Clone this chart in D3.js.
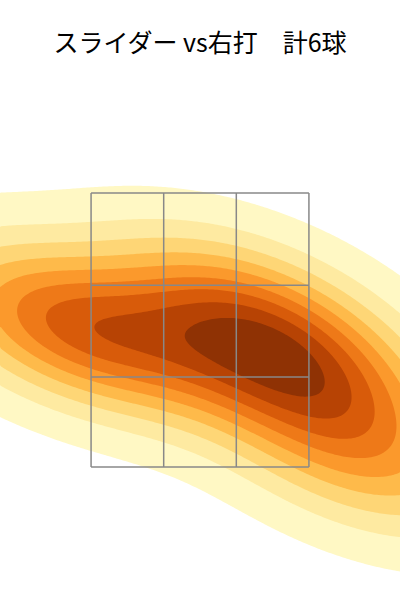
<!DOCTYPE html>
<html>
<head>
<meta charset="utf-8">
<script src="https://cdn.jsdelivr.net/npm/d3@7"></script>
<style>
html,body{margin:0;padding:0;background:#fff;}
svg{display:block;}
</style>
</head>
<body>
<div id="chart"></div>
<script>
// ---- data ----
const chartTitle = "スライダー vs右打　計6球";
const pitchX = [-0.943, -0.670, 0.228, 0.488, 0.715, 1.073]; // plate_x (ft)
const pitchZ = [2.573, 2.456, 2.697, 2.361, 2.084, 1.537];   // plate_z (ft)
const zoneX = [-0.708, -0.236, 0.236, 0.708];
const zoneZ = [3.5, 2.826, 2.157, 1.5];
const levelFrac = [0.05, 0.156, 0.261, 0.367, 0.472, 0.578, 0.683, 0.789, 0.894];
const levelColorT = [0.1, 0.2, 0.3, 0.4, 0.5, 0.6, 0.7, 0.8, 0.9];

// ---- layout ----
const W = 400, H = 600;
const x = d3.scaleLinear().domain([-1.3, 1.3]).range([0, W]);
const y = d3.scaleLinear().domain([0.529, 4.909]).range([H, 0]);

const svg = d3.select("#chart").append("svg").attr("width", W).attr("height", H);

// KDE (tilted gaussian kernel) on a pixel grid
const cell = 2, kx = 95, ky = 57, rho = 0.45;
const c11 = kx * kx, c22 = ky * ky, c12 = rho * kx * ky;
const det = c11 * c22 - c12 * c12;
const i11 = c22 / det, i22 = c11 / det, i12 = -c12 / det;
const nx = Math.ceil(W / cell) + 1, ny = Math.ceil(H / cell) + 1;
const pts = pitchX.map((v, i) => [x(v), y(pitchZ[i])]);
const values = new Float64Array(nx * ny);
for (let j = 0; j < ny; j++) {
  for (let i = 0; i < nx; i++) {
    const px = i * cell, py = j * cell;
    let s = 0;
    for (const [a, b] of pts) {
      const dx = px - a, dy = py - b;
      s += Math.exp(-(i11 * dx * dx + 2 * i12 * dx * dy + i22 * dy * dy) / 2);
    }
    values[j * nx + i] = s;
  }
}
const maxV = d3.max(values);
const thresholds = levelFrac.map(f => f * maxV);
const contours = d3.contours().size([nx, ny]).thresholds(thresholds)(values);

const path = d3.geoPath(d3.geoTransform({
  point: function(px, py) { this.stream.point(px * cell, py * cell); }
}));

svg.append("g").selectAll("path").data(contours).join("path")
  .attr("d", path)
  .attr("fill", (d, i) => d3.interpolateYlOrBr(levelColorT[i]));

// strike zone grid
const g = svg.append("g").attr("fill", "none").attr("stroke", "#888").attr("stroke-width", 1.5);
g.selectAll("line.v").data(zoneX).join("line")
  .attr("x1", d => x(d)).attr("x2", d => x(d))
  .attr("y1", y(zoneZ[0])).attr("y2", y(zoneZ[3]));
g.selectAll("line.h").data(zoneZ).join("line")
  .attr("y1", d => y(d)).attr("y2", d => y(d))
  .attr("x1", x(zoneX[0])).attr("x2", x(zoneX[3]));

svg.append("text")
  .attr("x", W / 2).attr("y", 52)
  .attr("text-anchor", "middle")
  .attr("font-family", "'Noto Sans CJK JP', 'Noto Sans', sans-serif")
  .attr("font-size", 25)
  .attr("fill", "#000")
  .text(chartTitle);
</script>
</body>
</html>
